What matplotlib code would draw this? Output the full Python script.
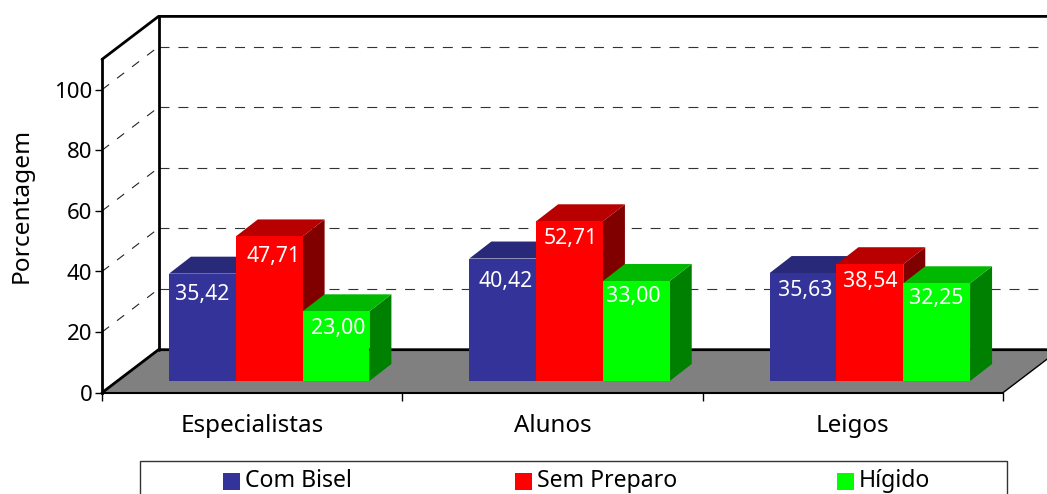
import matplotlib
matplotlib.use("Agg")
import matplotlib.pyplot as plt
from matplotlib.patches import Polygon, Rectangle

categories = ["Especialistas", "Alunos", "Leigos"]
series = ["Com Bisel", "Sem Preparo", "Hígido"]
com_bisel = [35.42, 40.42, 35.63]
sem_preparo = [47.71, 52.71, 38.54]
higido = [23.00, 33.00, 32.25]
yticks = [0, 20, 40, 60, 80, 100]
colors = ["#333399", "#FF0000", "#00FF00"]
tops = ["#29297A", "#B80000", "#00B800"]
sides = ["#1A1A4D", "#800000", "#008000"]
# where each value label sits, px from the bar's top centre (per series, per category)
label_dx = [[0, 3, 2], [4, 1, 0], [2, -3, 0]]
label_dy = [[21, 23, 17], [20, 17, 17], [17, 15, 15]]

W, H = 1047, 494
plt.rcParams["font.family"] = ["Noto Sans", "DejaVu Sans"]
plt.rcParams["font.size"] = 16

fig = plt.figure(figsize=(W/100, H/100), dpi=100)
ax = fig.add_axes([102/W, (H-392.7)/H, 901/W, 333.3/H])
ax.set_xlim(0, 3)
ax.set_ylim(0, 110)

# px per data unit, used for the fake 3D depth
ux = 901/3
uy = 3.03
wall_dx, wall_dy = 56.5/ux, 43/uy
bar_dx, bar_dy = 22/ux, 17/uy
base = 11.7/uy
bar_w = 66.8/ux
bar_x0 = 67/ux


def poly(pts, **kw):
    ax.add_patch(Polygon(pts, closed=True, clip_on=False, **kw))


def line(xs, ys, **kw):
    ax.plot(xs, ys, clip_on=False, solid_capstyle="round", **kw)


# floor
poly([(0, 0), (3, 0), (3+wall_dx, wall_dy), (wall_dx, wall_dy)], fc="#808080", ec="none", zorder=1)
line([3, 3+wall_dx], [0, wall_dy], color="k", lw=1, zorder=2)

# gridlines on both walls
for v in yticks[1:]:
    ax.plot([0, wall_dx], [v, v+wall_dy], color="#222222", lw=0.8, dashes=(8, 9), clip_on=False, zorder=1)
    ax.plot([wall_dx, 3+wall_dx], [v+wall_dy, v+wall_dy], color="#333333", lw=0.8, dashes=(9, 8), clip_on=False, zorder=1)

# wall outline
line([wall_dx, wall_dx], [wall_dy, 110+wall_dy], color="k", lw=2, zorder=2)
line([0, wall_dx, 3+wall_dx], [110, 110+wall_dy, 110+wall_dy], color="k", lw=2, zorder=2)
line([0, wall_dx, 3+wall_dx], [0, wall_dy, wall_dy], color="k", lw=2, zorder=2)

# bars
for s, vals in enumerate([com_bisel, sem_preparo, higido]):
    for i, v in enumerate(vals):
        x0 = i + bar_x0 + s*bar_w
        x1 = x0 + bar_w
        y0 = base
        y1 = base + v
        z = 3 + s
        poly([(x1, y0), (x1+bar_dx, y0+bar_dy), (x1+bar_dx, y1+bar_dy), (x1, y1)], fc=sides[s], ec="none", zorder=z)
        poly([(x0, y1), (x1, y1), (x1+bar_dx, y1+bar_dy), (x0+bar_dx, y1+bar_dy)], fc=tops[s], ec="none", zorder=z)
        poly([(x0, y0), (x1, y0), (x1, y1), (x0, y1)], fc=colors[s], ec="none", zorder=z)
        ax.text((x0+x1)/2 + label_dx[s][i]/ux, y1 - label_dy[s][i]/uy,
                "{:.2f}".format(v).replace(".", ","), color="white",
                ha="center", va="center", fontsize=15.3, zorder=10)

for name in ["top", "right"]:
    ax.spines[name].set_visible(False)
ax.spines["left"].set_linewidth(2)
ax.spines["bottom"].set_linewidth(1.5)
ax.patch.set_visible(False)

ax.set_yticks(yticks)
ax.tick_params(axis="y", length=5, width=1, labelsize=16, pad=2)
ax.set_xticks([0, 1, 2, 3], ["", "", "", ""])
ax.set_xticks([0.5, 1.5, 2.5], categories, minor=True)
ax.tick_params(axis="x", which="major", length=6, width=1)
ax.tick_params(axis="x", which="minor", length=0, labelsize=17.4, pad=15)
ax.set_ylabel("Porcentagem", fontsize=17.6)
ax.yaxis.set_label_coords((34-102)/901, (392.7-205)/333.3)

# legend box runs off the bottom of the picture
fig.add_artist(Rectangle((140/W, -0.05), 867/W, (H-461)/H+0.05, transform=fig.transFigure,
                         fc="white", ec="#333333", lw=1))
for s, (name, kx) in enumerate(zip(series, [223, 515, 837])):
    fig.add_artist(Rectangle((kx/W, (H-490)/H), 17/W, 17/H, transform=fig.transFigure,
                             fc=colors[s], ec="none"))
    fig.text((kx+22)/W, (H-481)/H, name, ha="left", va="center", fontsize=16.6)

fig.savefig("out.png", dpi=100)
